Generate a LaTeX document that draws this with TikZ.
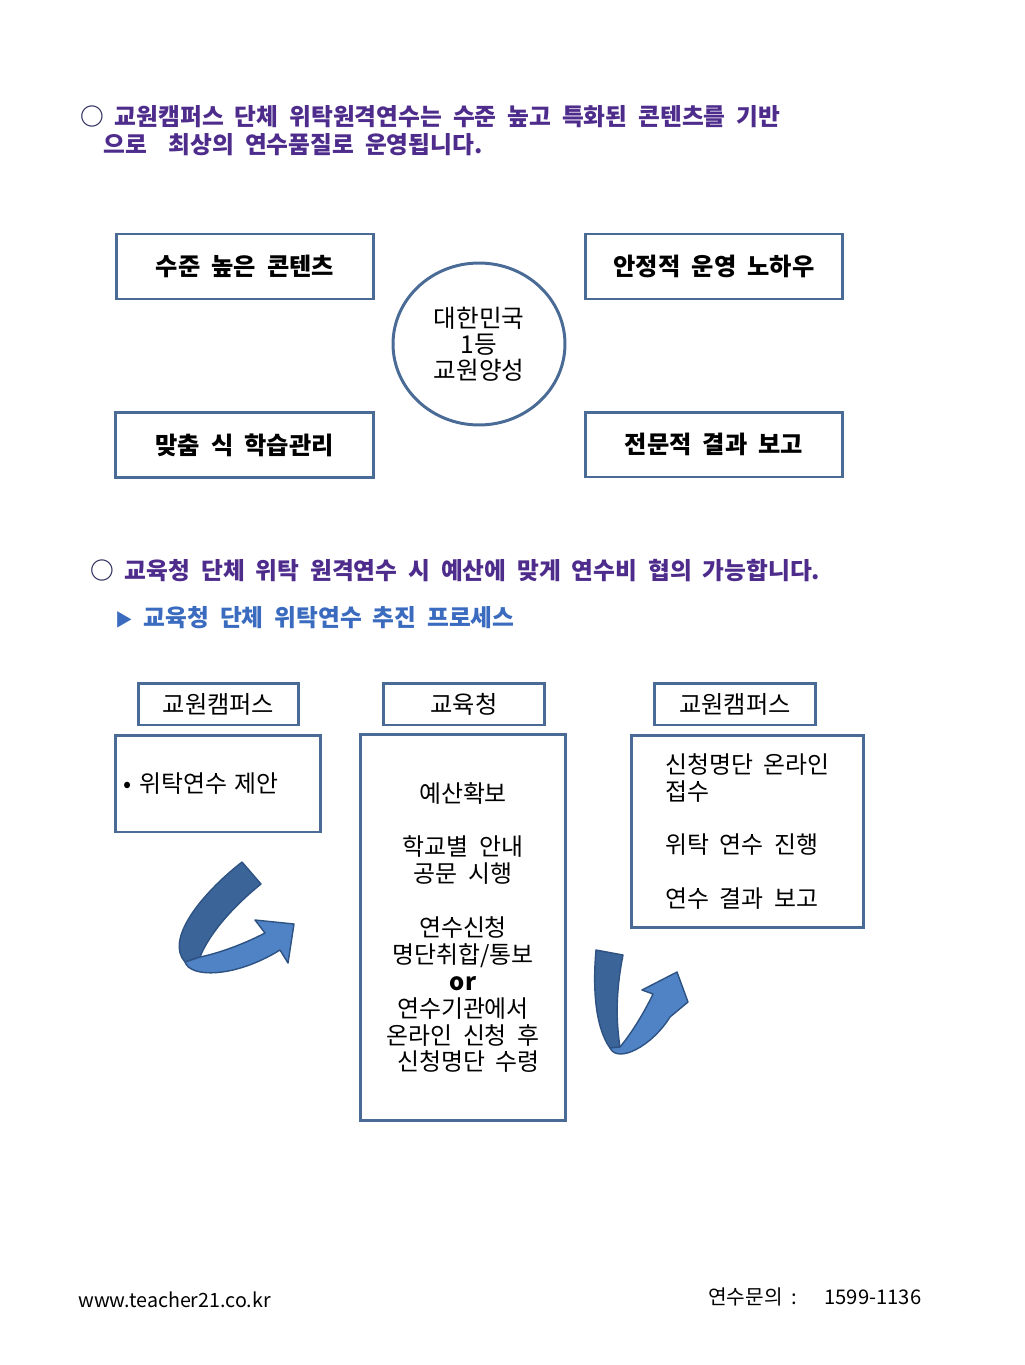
\documentclass[tikz,border=0pt]{standalone}
\usepackage{fontspec}
\setmainfont{Noto Sans CJK KR}[WordSpace=2]
\usetikzlibrary{shapes.geometric}
\definecolor{boxline}{HTML}{4A6B96}
\definecolor{headpurple}{HTML}{4E2C8C}
\definecolor{ringdark}{HTML}{2B2A5C}
\definecolor{headblue}{HTML}{3A6BBF}
\definecolor{arrowdark}{HTML}{3B6499}
\definecolor{arrowlight}{HTML}{4F83C5}
\definecolor{arrowedge}{HTML}{2E5282}

\begin{document}
\begin{tikzpicture}[x=0.02cm,y=-0.02cm,
    heading/.style={anchor=west,inner sep=0pt,font=\fontsize{13.5}{15}\selectfont\bfseries,text=headpurple},
    pointbox/.style={draw=boxline,line width=\rimwidth,minimum width=5.16cm,minimum height=1.3cm,font=\fontsize{13.8}{16}\selectfont\bfseries},
    tagbox/.style={draw=boxline,line width=\rimwidth,minimum width=3.22cm,minimum height=0.84cm,font=\fontsize{13.8}{15}\selectfont},
    stepbox/.style={draw=boxline,line width=\rimwidth,font=\fontsize{13.6}{15.3}\selectfont},
    ribbon/.style={draw=arrowedge,line width=0.8pt,line join=round}]
    % Set the width of the box rims
    \newcommand{\rimwidth}{1.7pt}

    \useasboundingbox (0,0) rectangle (1024,1365);

    % Lead text on top
    \node[heading] (lead1) at (80,117) {{\color{ringdark}○} 교원캠퍼스 단체 위탁원격연수는 수준 높고 특화된 콘텐츠를 기반};
    \node[heading] (lead2) at (103,145) {으로\ \ 최상의 연수품질로 운영됩니다.};

    % Four strengths round the circle
    \foreach \name/\x/\y/\txt in {content/245/266.5/수준 높은 콘텐츠, knowhow/714/266.5/안정적 운영 노하우,
                                  manage/244.5/445/맞춤 식 학습관리, report/714/444.5/전문적 결과 보고}
      \node[pointbox] (\name) at (\x,\y) {\txt};

    \node[draw=boxline,line width=\rimwidth,ellipse,minimum width=3.44cm,minimum height=3.24cm,
          align=center,font=\fontsize{14}{14.7}\selectfont] (goal) at (479,344) {대한민국\\1등\\교원양성};

    % Second part
    \node[heading] (lead3) at (90,571) {{\color{ringdark}○} 교육청 단체 위탁 원격연수 시 예산에 맞게 연수비 협의 가능합니다.};
    \node[heading,text=headblue] (lead4) at (115,618) {{\fontsize{10}{12}\selectfont▶} 교육청 단체 위탁연수 추진 프로세스};

    % Who does what
    \foreach \name/\x/\txt in {tagleft/218.5/교원캠퍼스, tagmid/464/교육청, tagright/735/교원캠퍼스}
      \node[tagbox] (\name) at (\x,704) {\txt};

    \node[stepbox,minimum width=4.12cm,minimum height=1.94cm,text width=3.8cm,align=left] (stepleft) at (218,783.5) {• 위탁연수 제안};
    \node[stepbox,minimum width=4.12cm,minimum height=7.72cm,align=center] (stepmid) at (463,927.5)
      {예산확보\\[15.3pt]학교별 안내\\공문 시행\\[15.3pt]연수신청\\명단취합/통보\\\textbf{or}\\연수기관에서\\온라인 신청 후\\\ 신청명단 수령};
    \node[stepbox,minimum width=4.66cm,minimum height=3.86cm,align=left] (stepright) at (747.5,831.5)
      {신청명단 온라인\\접수\\[15.3pt]위탁 연수 진행\\[15.3pt]연수 결과 보고};

    % Turning arrows between the steps
    \filldraw[ribbon,fill=arrowdark] (242,862) .. controls (200,895) and (165,940) .. (185,962)
      -- (200,957) .. controls (210,932) and (235,905) .. (261,884) -- cycle;
    \filldraw[ribbon,fill=arrowlight] (185,962) .. controls (190,978) and (235,978) .. (280,950)
      -- (288,963) -- (294,924) -- (255,920) -- (265,933) .. controls (240,946) and (215,954) .. (200,957) -- cycle;

    \filldraw[ribbon,fill=arrowdark] (596,950) .. controls (592,995) and (597,1030) .. (610,1048)
      -- (620,1047) .. controls (615,1015) and (617,985) .. (623,955) -- cycle;
    \filldraw[ribbon,fill=arrowlight] (610,1048) .. controls (618,1064) and (652,1046) .. (670,1017)
      -- (688,1002) -- (677,972) -- (642,990) -- (653,994) .. controls (643,1015) and (630,1035) .. (620,1047) -- cycle;

    % Footer
    \node[anchor=west,inner sep=0pt,font=\fontsize{11.2}{14}\selectfont] (site) at (78,1300) {www.teacher21.co.kr};
    \node[anchor=west,inner sep=0pt,font=\fontsize{11.5}{14}\selectfont] (phone) at (708,1297) {연수문의 :\ \ \ 1599-1136};
\end{tikzpicture}
\end{document}
